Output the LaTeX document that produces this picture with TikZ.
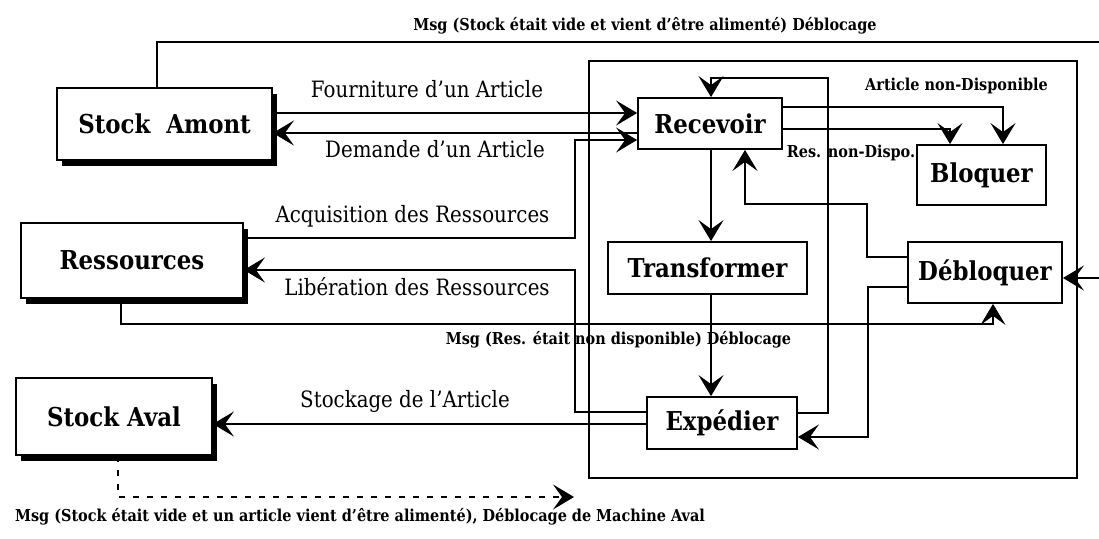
\documentclass[tikz,border=0pt]{standalone}
\usepackage{fontspec}
\setmainfont{DejaVu Serif}[FakeStretch=0.88]
\usetikzlibrary{arrows.meta,shadows}
\tikzset{
  boxbase/.style={draw, line width=1.8pt, fill=white, inner sep=0pt, font=\fontsize{26}{26}\selectfont\bfseries},
  extbox/.style={boxbase, drop shadow={shadow xshift=5pt, shadow yshift=-6pt, fill=black, opacity=1}},
  procbox/.style={boxbase},
  lbl/.style={inner sep=0pt, anchor=base, font=\fontsize{22.5}{22.5}\selectfont},
  small/.style={inner sep=0pt, anchor=base, font=\fontsize{16.4}{16.4}\selectfont\bfseries},
  ln/.style={line width=1.6pt},
  arr/.style={ln, -{Stealth[length=21pt, width=25pt, inset=9pt]}},
  frame/.style={line width=1.6pt}
}
\begin{document}
\begin{tikzpicture}[x=1pt, y=-1pt]
\useasboundingbox (0,0) rectangle (1099,538);
% inner frame
\draw[frame] (589,61) rectangle (1077,478);
% boxes
\node[extbox, minimum width=215pt, minimum height=72pt] (amont) at (164.5,124) {Stock\ \ Amont};
\node[extbox, minimum width=222pt, minimum height=75pt] (res) at (132,260.5) {Ressources};
\node[extbox, minimum width=196pt, minimum height=77pt] (aval) at (114,416.5) {Stock Aval};
\node[procbox, minimum width=144pt, minimum height=51pt] (rec) at (710,123.5) {Recevoir};
\node[procbox, minimum width=129pt, minimum height=60pt] (blo) at (981.5,175) {Bloquer};
\node[procbox, minimum width=199pt, minimum height=52pt] (tra) at (707.5,268) {Transformer};
\node[procbox, minimum width=154pt, minimum height=61pt] (deb) at (985,272.5) {Débloquer};
\node[procbox, minimum width=150pt, minimum height=52pt] (exp) at (722,423) {Expédier};
% coordinates
\coordinate (topR) at (1104,42);
\coordinate (topR2) at (1104,278);
\coordinate (dashEnd) at (574,497);
% top message line
\draw[arr] (amont.north -| 157,0) |- (topR) -- (topR2) -- (deb.east |- topR2);
% Fourniture / Demande
\draw[arr] (amont.east |- 0,113) -- (rec.west |- 0,113);
\draw[arr] (rec.west |- 0,133) -- (amont.east |- 0,133);
% Acquisition
\draw[arr] (res.east |- 0,238) -- (575,238) -- (575,140) -- (rec.west |- 0,140);
% Liberation
\draw[arr] (exp.west |- 0,412) -- (575,412) -- (575,270) -- (res.east |- 0,270);
% Stockage
\draw[arr] (exp.west |- 0,424) -- (aval.east |- 0,424);
% Recevoir -> Bloquer
\draw[arr] (rec.east |- 0,107) -- (1003,107) -- (blo.north -| 1003,0);
\draw[arr] (rec.east |- 0,129) -- (950,129) -- (blo.north -| 950,0);
% Recevoir -> Transformer -> Expedier
\draw[arr] (rec.south -| 711,0) -- (tra.north -| 711,0);
\draw[arr] (tra.south -| 711,0) -- (exp.north -| 711,0);
% Expedier -> Recevoir top
\draw[arr] (exp.east |- 0,413) -- (828,413) -- (828,78) -- (711,78) -- (rec.north -| 711,0);
% Debloquer -> Recevoir
\draw[arr] (deb.west |- 0,257) -- (867,257) -- (867,204) -- (745,204) -- (rec.south -| 745,0);
% Debloquer -> Expedier
\draw[arr] (deb.west |- 0,287) -- (868,287) -- (868,437) -- (exp.east |- 0,437);
% Ressources msg -> Debloquer
\draw[arr] (res.south -| 121,0) -- (121,324) -- (993,324) -- (deb.south -| 993,0);
% Stock Aval dashed
\draw[arr, dash pattern=on 6pt off 8pt] (aval.south -| 118,0) -- (118,497) -- (dashEnd);
% labels
\node[small] (t1) at (645,30) {Msg (Stock était vide et vient d'être alimenté) Déblocage};
\node[lbl] (t2) at (427,97) {Fourniture d'un Article};
\node[lbl] (t3) at (435,157) {Demande d'un Article};
\node[small] (t4) at (956.5,90) {Article non-Disponible};
\node[small] (t5) at (851,157) {Res. non-Dispo.};
\node[lbl] (t6) at (412.5,222) {Acquisition des Ressources};
\node[lbl] (t7) at (417,295) {Libération des Ressources};
\node[small] (t8) at (618.5,344) {Msg (Res. était non disponible) Déblocage};
\node[lbl] (t9) at (405,407) {Stockage de l'Article};
\node[small] (t10) at (360,521) {Msg (Stock était vide et un article vient d'être alimenté), Déblocage de Machine Aval};
\end{tikzpicture}
\end{document}
